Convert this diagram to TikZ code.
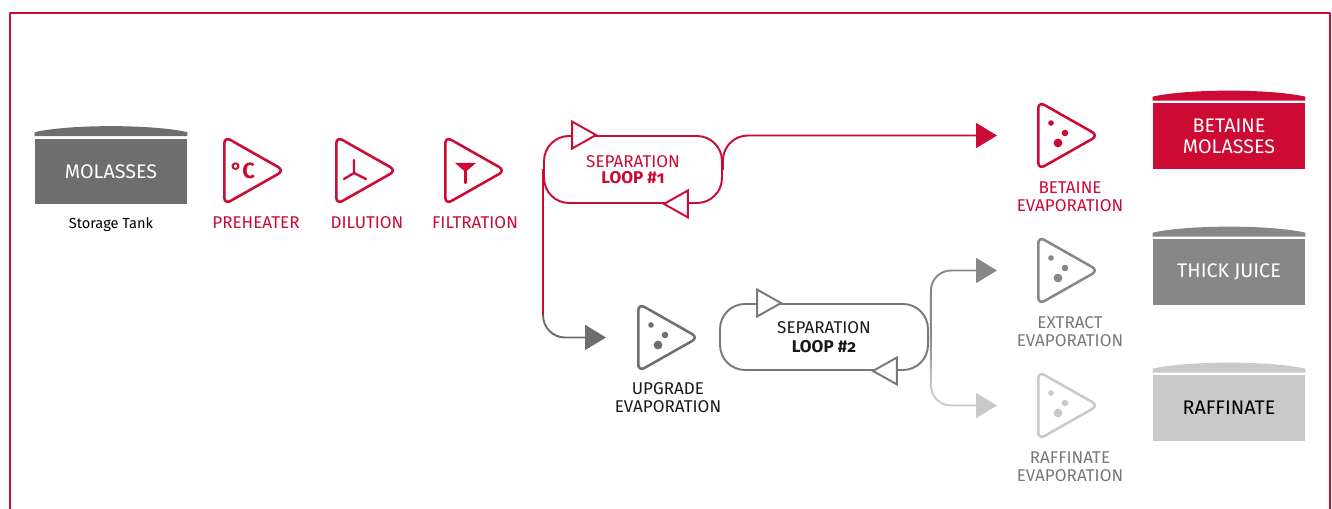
\documentclass[tikz,border=0pt]{standalone}
\usepackage{fontspec}
\setmainfont{Fira Sans}
\usetikzlibrary{arrows.meta,positioning,shapes.geometric}
\definecolor{dcqqtt}{rgb}{0.8,0.04,0.2}
\definecolor{ononon}{rgb}{0.43,0.43,0.43}
\definecolor{wwwwww}{rgb}{0.47,0.47,0.47}
\definecolor{sqsqsq}{rgb}{0.53,0.53,0.53}
\definecolor{cccccc}{rgb}{0.79,0.79,0.79}
\definecolor{qqqqqq}{rgb}{0.1,0.1,0.1}
\newcommand{\tankcap}[2]{\fill[#2] ([shift={(0,-2)}]#1.north west) -- ([shift={(0,-6)}]#1.north west) .. controls ([shift={(35,-14)}]#1.north west) and ([shift={(-35,-14)}]#1.north east) .. ([shift={(0,-6)}]#1.north east) -- ([shift={(0,-2)}]#1.north east) -- cycle;}
\newcommand{\tipright}[2]{\filldraw[fill=white,draw=#2,line width=1.1pt,line join=miter] (#1) -- ++(-24,-13.5) -- ++(0,27) -- cycle;}
\newcommand{\tipleft}[2]{\filldraw[fill=white,draw=#2,line width=1.1pt,line join=miter] (#1) -- ++(24,-13.5) -- ++(0,27) -- cycle;}
\newcommand{\drops}[2]{\fill[#2] ([shift={(14,-12.5)}]#1.lower side) circle (0.056cm);
\fill[#2] ([shift={(28,-2.5)}]#1.lower side) circle (0.066cm);
\fill[#2] ([shift={(21,7.5)}]#1.lower side) circle (0.088cm);}
\begin{document}
\begin{tikzpicture}[line cap=round,line join=round,x=0.02cm,y=-0.02cm,
  tank/.style={rectangle,inner sep=0,minimum width=3.04cm,minimum height=1.32cm,align=center,font=\fontsize{11.2}{11.8}\selectfont},
  stage/.style={isosceles triangle,isosceles triangle stretches,shape border rotate=0,inner sep=0,minimum width=1.36cm,minimum height=1.2cm,rounded corners=0.14cm,line width=1.45pt,draw,anchor=lower side},
  loopbox/.style={rectangle,rounded corners=0.5cm,inner sep=0,line width=1.1pt,draw,align=center,font=\fontsize{9.7}{10.6}\selectfont},
  tag/.style={align=center,font=\fontsize{9.7}{10.2}\selectfont},
  flow/.style={line width=1.1pt,-{Triangle[length=0.42cm,width=0.5cm]}}]
\useasboundingbox (0,0) rectangle (1332,509);
\draw[dcqqtt,line width=1.2pt,line cap=butt] (10,515) -- (10,13) -- (1330,13) -- (1330,515);

% tanks
\node[tank,fill=ononon,text=white] (mol) at (111,171.5) {MOLASSES};
\node[tank,fill=dcqqtt,text=white] (bmol) at (1229,136) {BETAINE\\MOLASSES};
\node[tank,fill=sqsqsq,text=white] (tj) at (1229,272) {THICK JUICE};
\node[tank,fill=cccccc,text=black] (raf) at (1229,408) {RAFFINATE};
\tankcap{mol}{ononon}
\tankcap{bmol}{dcqqtt}
\tankcap{tj}{sqsqsq}
\tankcap{raf}{cccccc}
\node[font=\fontsize{8.3}{9}\selectfont,below=0.14cm of mol] (moltag) {Storage Tank};

% pretreatment
\node[stage,dcqqtt] (pre) at (223,170.5) {};
\node[stage,dcqqtt] (dil) at (335,170.5) {};
\node[stage,dcqqtt] (fil) at (444,170.5) {};
\node[dcqqtt,font=\fontsize{12.5}{13}\selectfont\bfseries] at ([shift={(20,0)}]pre.lower side) {°C};
\begin{scope}[shift={(dil.lower side)}]
\draw[dcqqtt,line width=1.3pt] (19,-10.5) -- (19,2.5) -- (9,8.5);
\draw[dcqqtt,line width=1.3pt] (19,2.5) -- (31,8.5);
\end{scope}
\begin{scope}[shift={(fil.lower side)}]
\fill[dcqqtt] (11,-7.5) -- (32,-7.5) -- (21.5,1.5) -- cycle;
\draw[dcqqtt,line width=1.2pt] (21.5,0) -- (21.5,12.5);
\end{scope}
\node[tag,dcqqtt] (pretag) at ([shift={(33,52)}]pre.lower side) {PREHEATER};
\node[tag,dcqqtt] (diltag) at ([shift={(32,52)}]dil.lower side) {DILUTION};
\node[tag,dcqqtt] (filtag) at ([shift={(31,52)}]fil.lower side) {FILTRATION};

% separation loops
\node[loopbox,dcqqtt,minimum width=3.56cm,minimum height=1.34cm] (loop1) at (633,169.5) {\raisebox{-0.04cm}{SEPARATION}\\\textbf{LOOP \#{\addfontfeatures{Numbers=OldStyle}1}}};
\node[loopbox,wwwwww,text=qqqqqq,minimum width=4.16cm,minimum height=1.32cm] (loop2) at (824,337) {SEPARATION\\\textbf{LOOP \#{\addfontfeatures{Numbers=OldStyle}2}}};
\tipright{[shift={(53,0)}]loop1.north west}{dcqqtt}
\tipleft{[shift={(-59,0)}]loop1.south east}{dcqqtt}
\tipright{[shift={(62,0)}]loop2.north west}{wwwwww}
\tipleft{[shift={(-56,0)}]loop2.south east}{wwwwww}

% evaporation
\node[stage,dcqqtt] (evb) at (1037,135.5) {};
\node[stage,ononon] (evu) at (637,337.5) {};
\node[stage,sqsqsq] (eve) at (1037,270.5) {};
\node[stage,cccccc] (evr) at (1037,405.5) {};
\drops{evb}{dcqqtt}
\drops{evu}{ononon}
\drops{eve}{sqsqsq}
\drops{evr}{cccccc}
\node[tag,dcqqtt] (evbtag) at ([shift={(33,61)}]evb.lower side) {BETAINE\\EVAPORATION};
\node[tag,qqqqqq] (evutag) at ([shift={(31,60.5)}]evu.lower side) {UPGRADE\\EVAPORATION};
\node[tag,wwwwww] (evetag) at ([shift={(33,61.5)}]eve.lower side) {EXTRACT\\EVAPORATION};
\node[tag,wwwwww] (evrtag) at ([shift={(33,61.5)}]evr.lower side) {RAFFINATE\\EVAPORATION};

% flows
\draw[flow,dcqqtt,rounded corners=0.5cm] (loop1.east) |- ([shift={(-40,0)}]evb.lower side);
\coordinate (bend1) at (loop1.west |- evu.lower side);
\draw[dcqqtt,line width=1.1pt] (loop1.west) -- ([shift={(0,-22)}]bend1);
\draw[flow,ononon,rounded corners=0.44cm] ([shift={(0,-22)}]bend1) -- (bend1) -- ([shift={(-31,0)}]evu.lower side);
\coordinate (split) at ([shift={(2,0)}]loop2.east);
\coordinate (bend2) at (split |- evr.lower side);
\draw[flow,sqsqsq,rounded corners=0.4cm] (split) |- ([shift={(-40,0)}]eve.lower side);
\shade[top color=sqsqsq,bottom color=cccccc] ([shift={(-1,0)}]split) rectangle ([shift={(1,-20)}]bend2);
\draw[flow,cccccc,rounded corners=0.4cm] ([shift={(0,-20)}]bend2) -- (bend2) -- ([shift={(-40,0)}]evr.lower side);
\end{tikzpicture}
\end{document}
